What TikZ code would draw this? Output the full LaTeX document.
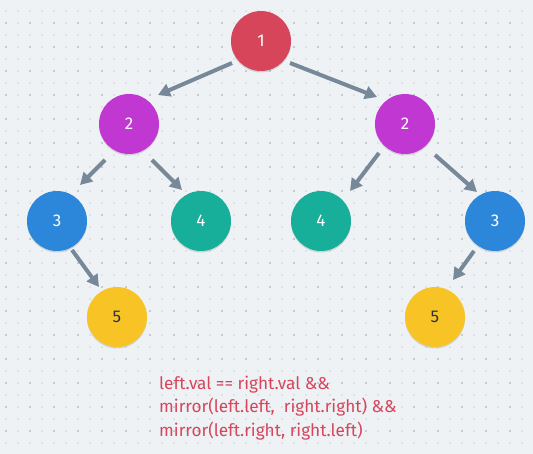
\documentclass[tikz,border=0pt]{standalone}
\usepackage{fontspec}
\setmainfont{Fira Sans}
\usetikzlibrary{arrows.meta,calc,shadows}
\definecolor{bgc}{HTML}{EEF2F5}
\definecolor{dotlight}{HTML}{DCE2E8}
\definecolor{dotdark}{HTML}{C3CBD3}
\definecolor{edgec}{HTML}{778899}
\definecolor{cred}{HTML}{D7455B}
\definecolor{cpurple}{HTML}{C037D1}
\definecolor{cblue}{HTML}{2C87DA}
\definecolor{cteal}{HTML}{17AE9A}
\definecolor{cyellow}{HTML}{F8C425}
\definecolor{darktext}{HTML}{2B3340}
\tikzset{
  tnode/.style={circle, minimum size=60pt, inner sep=0pt, outer sep=0pt,
    font=\fontsize{17}{17}\selectfont, text=white,
    drop shadow={shadow xshift=0pt, shadow yshift=-1.5pt, opacity=0.12, fill=black}},
  edgearrow/.style={draw=edgec, line width=4pt, -{Triangle[length=12pt,width=13pt]}},
  codetext/.style={anchor=base west, inner sep=0pt, text=cred, font=\fontsize{17.2}{17.2}\selectfont}
}
\begin{document}
\begin{tikzpicture}[x=1pt,y=-1pt]
\fill[bgc] (0,0) rectangle (533,454);
\useasboundingbox (0,0) rectangle (533,454);
\foreach \i in {0,...,44}{
  \foreach \j in {0,...,37}{
    \fill[dotlight] ({6+12*\i-1},{11+12*\j-1}) rectangle ++(2,2);
  }
}
\foreach \i in {0,...,22}{
  \foreach \j in {0,...,18}{
    \fill[dotdark] ({6+24*\i-1},{23+24*\j-1}) rectangle ++(2,2);
  }
}
\node[tnode, fill=cred] (n1) at (261,41) {1};
\node[tnode, fill=cpurple] (n2l) at (129,124) {2};
\node[tnode, fill=cpurple] (n2r) at (405,124) {2};
\node[tnode, fill=cblue] (n3l) at (57,221) {3};
\node[tnode, fill=cteal] (n4l) at (201,221) {4};
\node[tnode, fill=cteal] (n4r) at (321,221) {4};
\node[tnode, fill=cblue] (n3r) at (495,221) {3};
\node[tnode, fill=cyellow, text=darktext] (n5l) at (117,317) {5};
\node[tnode, fill=cyellow, text=darktext] (n5r) at (435,317) {5};

\draw[edgearrow] ($(n1)+(-29,22)$) -- ($(n2l)+(29,-29)$);
\draw[edgearrow] ($(n1)+(29,22)$) -- ($(n2r)+(-28,-27)$);
\draw[edgearrow] ($(n2l)+(-24,36)$) -- ($(n3l)+(23,-36)$);
\draw[edgearrow] ($(n2l)+(23,36)$) -- ($(n4l)+(-19,-31)$);
\draw[edgearrow] ($(n2r)+(-26,29)$) -- ($(n4r)+(29,-30)$);
\draw[edgearrow] ($(n2r)+(30,31)$) -- ($(n3r)+(-18,-29)$);
\draw[edgearrow] ($(n3l)+(15,29)$) -- ($(n5l)+(-18,-30)$);
\draw[edgearrow] ($(n3r)+(-21,30)$) -- ($(n5r)+(18,-37)$);

\node[codetext] (c1) at (159,389) {left.val == right.val \&\&};
\node[codetext] (c2) at (159,413) {mirror(left.left,\ \ right.right) \&\&};
\node[codetext] (c3) at (159,436) {mirror(left.right, right.left)};
\end{tikzpicture}
\end{document}
